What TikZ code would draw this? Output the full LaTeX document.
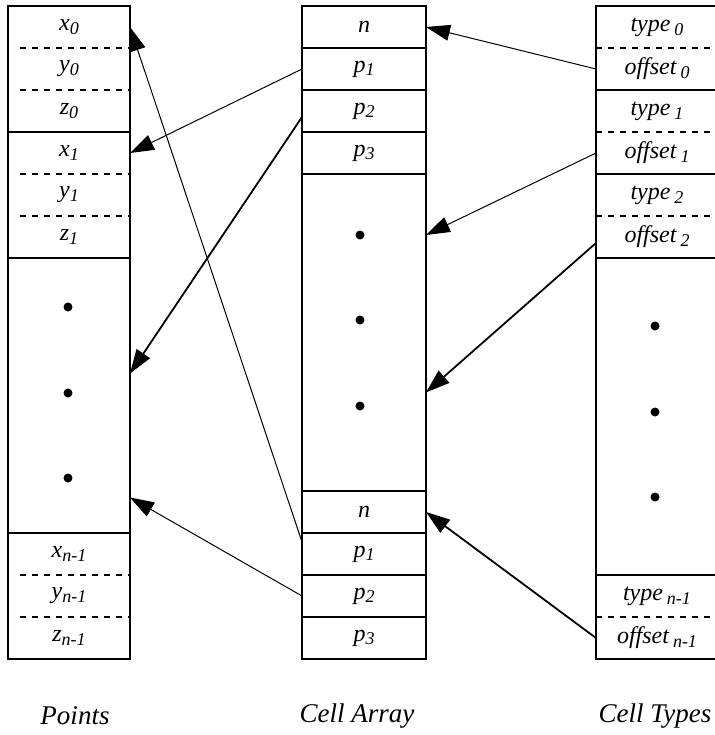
\documentclass[tikz,border=0pt]{standalone}
\usepackage{fontspec}
\setmainfont{Liberation Serif}
\usetikzlibrary{positioning,arrows.meta}
\newcommand{\idx}[1]{\raisebox{-0.35ex}{\fontsize{9}{10}\selectfont #1}}

\begin{document}
\begin{tikzpicture}[x=0.5pt,y=-0.5pt,
    field/.style={minimum width=61pt, minimum height=21pt, inner sep=0pt, outer sep=0pt,
                  font=\fontsize{12}{14}\selectfont\itshape},
    wfield/.style={field, minimum width=62pt},
    dotsblock/.style={minimum width=61pt, inner sep=0pt, outer sep=0pt},
    sep/.style={dash pattern=on 3pt off 3pt, line width=0.6pt},
    frame/.style={line width=0.7pt},
    ptr/.style={-{Triangle[length=12pt,width=8pt]}, line width=0.5pt},
    bigptr/.style={ptr, line width=0.9pt},
    dot/.style={circle, fill, inner sep=0pt, minimum size=4.5pt},
    caption/.style={font=\fontsize{13.5}{16}\selectfont\itshape}]
  \useasboundingbox (0,0) rectangle (715,735);

  % Points
  \node[field] (px0) at (69,27) {x\idx{0}};
  \node[field, below=0pt of px0] (py0) {y\idx{0}};
  \node[field, below=0pt of py0] (pz0) {z\idx{0}};
  \node[field, below=0pt of pz0] (px1) {x\idx{1}};
  \node[field, below=0pt of px1] (py1) {y\idx{1}};
  \node[field, below=0pt of py1] (pz1) {z\idx{1}};
  \node[dotsblock, minimum height=137.5pt, below=0pt of pz1] (pdots) {};
  \node[field, below=0pt of pdots] (pxn) {x\idx{n-1}};
  \node[field, below=0pt of pxn] (pyn) {y\idx{n-1}};
  \node[field, below=0pt of pyn] (pzn) {z\idx{n-1}};
  \node[dot] (pd1) at (68,307) {};
  \node[dot] (pd2) at (68,393) {};
  \node[dot] (pd3) at (68,478) {};

  \draw[frame] (px0.north west) rectangle (pz0.south east);
  \draw[frame] (px1.north west) rectangle (pz1.south east);
  \draw[frame] (pdots.north west) rectangle (pdots.south east);
  \draw[frame] (pxn.north west) rectangle (pzn.south east);
  \foreach \c in {px0,py0,px1,py1,pxn,pyn}
    \draw[sep] ([xshift=6pt]\c.south west) -- (\c.south east);

  % Cell Array
  \node[wfield] (can) at (364,27) {n};
  \node[wfield, below=0pt of can] (cap1) {p\idx{1}};
  \node[wfield, below=0pt of cap1] (cap2) {p\idx{2}};
  \node[wfield, below=0pt of cap2] (cap3) {p\idx{3}};
  \node[dotsblock, minimum width=62pt, minimum height=158.5pt, below=0pt of cap3] (cadots) {};
  \node[wfield, below=0pt of cadots] (cbn) {n};
  \node[wfield, below=0pt of cbn] (cbp1) {p\idx{1}};
  \node[wfield, below=0pt of cbp1] (cbp2) {p\idx{2}};
  \node[wfield, below=0pt of cbp2] (cbp3) {p\idx{3}};
  \node[dot] (cad1) at (360,235) {};
  \node[dot] (cad2) at (360,320) {};
  \node[dot] (cad3) at (360,406) {};

  \foreach \c in {can,cap1,cap2,cap3,cadots,cbn,cbp1,cbp2,cbp3}
    \draw[frame] (\c.north west) rectangle (\c.south east);

  % Cell Types
  \node[field] (ctt0) at (657,27) {type\,\idx{0}};
  \node[field, below=0pt of ctt0] (ctoff0) {offset\,\idx{0}};
  \node[field, below=0pt of ctoff0] (ctt1) {type\,\idx{1}};
  \node[field, below=0pt of ctt1] (ctoff1) {offset\,\idx{1}};
  \node[field, below=0pt of ctoff1] (ctt2) {type\,\idx{2}};
  \node[field, below=0pt of ctt2] (ctoff2) {offset\,\idx{2}};
  \node[dotsblock, minimum height=158.5pt, below=0pt of ctoff2] (ctdots) {};
  \node[field, below=0pt of ctdots] (cttn) {type\,\idx{n-1}};
  \node[field, below=0pt of cttn] (ctoffn) {offset\,\idx{n-1}};
  \node[dot] (ctd1) at (655,326) {};
  \node[dot] (ctd2) at (655,412) {};
  \node[dot] (ctd3) at (655,497) {};

  \draw[frame] (ctt0.north west) rectangle (ctoff0.south east);
  \draw[frame] (ctt1.north west) rectangle (ctoff1.south east);
  \draw[frame] (ctt2.north west) rectangle (ctoff2.south east);
  \draw[frame] (ctdots.north west) rectangle (ctdots.south east);
  \draw[frame] (cttn.north west) rectangle (ctoffn.south east);
  \draw[line width=1.1pt] (ctoff1.south west) -- (ctoff1.south east);
  \foreach \c in {ctt0,ctt1,ctt2,cttn}
    \draw[sep] (\c.south west) -- (\c.south east);

  % pointers
  \draw[ptr] (ctoff0.west) -- (can.east);
  \draw[ptr] (cap1.west) -- (px1.east);
  \draw[bigptr] ([yshift=-3pt]cap2.west) -- ([yshift=11pt]pdots.east);
  \draw[ptr] (ctoff1.west) -- (cadots.east |- cad1);
  \draw[bigptr] ([yshift=-3pt]ctoff2.west) -- ([yshift=-30pt]cadots.east);
  \draw[ptr] ([yshift=6pt]cbp1.west) -- (px0.east);
  \draw[ptr] (cbp2.west) -- ([yshift=-51pt]pdots.east);
  \draw[bigptr] (ctoffn.west) -- (cbn.east);

  % captions
  \node[caption] (cpoints) at (75,716) {Points};
  \node[caption] (carray) at (357,716) {Cell Array};
  \node[caption] (ctypes) at (655,716) {Cell Types};
\end{tikzpicture}
\end{document}
